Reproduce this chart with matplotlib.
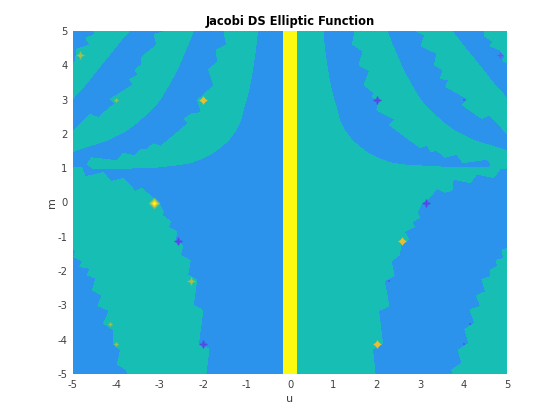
import matplotlib
matplotlib.use("Agg")
import matplotlib.pyplot as plt

plt.rcParams["axes.unicode_minus"] = False

# level regions, as (u, m) outlines
right_u = [0.00, 0.76, 0.79, 0.84, 0.92, 1.00, 1.08, 1.15, 1.27, 1.42, 1.61, 1.80, 2.04, 2.30, 2.65, 3.84, 4.57, 4.65, 4.53, 3.99, 3.84, 3.57, 3.38, 3.26, 3.15, 3.00, 2.30, 2.42, 2.00, 2.07, 1.90, 1.94, 1.71, 1.84, 1.59, 1.69, 1.44, 1.50, 2.24, 2.34, 2.46, 2.57, 2.69, 2.84, 3.00, 3.19, 3.38, 3.57, 3.76, 3.99, 4.22, 4.45, 4.69, 5.00, 5.00, 4.84, 4.69, 4.30, 4.15, 3.76, 3.73, 3.57, 3.39, 3.15, 3.03, 2.93, 2.98, 2.80, 2.86, 2.63, 2.73, 2.55, 2.52, 2.33, 2.40, 2.17, 2.28, 2.04, 2.13, 1.90, 1.96, 0.00]
right_m = [5.00, 5.00, 4.54, 4.06, 3.47, 3.04, 2.70, 2.36, 2.07, 1.82, 1.61, 1.43, 1.28, 1.16, 1.09, 1.01, 1.01, 1.12, 1.26, 1.16, 1.41, 1.32, 1.53, 1.48, 1.68, 1.60, 2.26, 2.42, 2.70, 2.99, 3.07, 3.20, 3.43, 3.84, 4.01, 4.40, 4.62, 5.00, 5.00, 4.64, 4.30, 3.96, 3.67, 3.33, 2.99, 2.72, 2.50, 2.29, 2.11, 1.95, 1.82, 1.72, 1.63, 1.51, 1.00, 0.98, 0.73, 0.83, 0.58, 0.68, 0.36, 0.30, 0.41, 0.07, -0.02, -0.30, -0.43, -0.58, -0.70, -0.85, -1.07, -1.24, -1.53, -1.71, -2.14, -2.28, -3.02, -3.15, -4.11, -4.28, -5.00, -5.00]

stripe_b_u = [2.92, 3.11, 3.02, 3.38, 3.33, 3.53, 3.46, 3.65, 3.59, 4.11, 3.98, 4.42, 4.59, 5.00, 5.00, 4.84, 4.69, 4.45, 4.26, 4.07, 3.89, 3.73]
stripe_b_m = [5.00, 4.88, 4.56, 4.35, 4.01, 3.86, 3.62, 3.57, 3.38, 3.01, 2.84, 2.45, 2.55, 2.02, 3.04, 3.26, 3.47, 3.86, 4.16, 4.45, 4.74, 5.00]

stripe_c_u = [4.49, 4.47, 4.69, 4.61, 4.84, 4.95, 4.90, 5.00, 5.00]
stripe_c_m = [5.00, 4.86, 4.69, 4.56, 4.45, 4.25, 4.14, 4.08, 5.00]

low_right_u = [5.00, 4.89, 4.92, 4.76, 4.78, 4.61, 4.62, 4.42, 4.51, 4.30, 4.39, 4.15, 4.26, 4.03, 4.12, 3.88, 3.96, 3.73, 3.76, 5.00]
low_right_m = [-1.34, -1.38, -1.63, -1.68, -1.87, -1.97, -2.16, -2.24, -2.60, -2.72, -3.02, -3.13, -3.52, -3.70, -4.11, -4.30, -4.69, -4.88, -5.00, -5.00]

left_u = [-0.75, -0.79, -0.84, -0.92, -1.00, -1.08, -1.15, -1.27, -1.42, -1.61, -1.80, -2.04, -2.30, -2.65, -3.15, -4.53, -4.67, -4.57, -3.99, -3.84, -3.57, -3.46, -3.29, -3.15, -2.98, -2.34, -2.44, -2.27, -2.04, -2.13, -2.00, -1.75, -1.87, -1.67, -1.70, -1.46, -1.52]
left_m = [5.00, 4.54, 4.06, 3.47, 3.04, 2.70, 2.36, 2.07, 1.82, 1.61, 1.43, 1.28, 1.16, 1.09, 1.02, 0.98, 1.12, 1.30, 1.22, 1.43, 1.36, 1.53, 1.55, 1.71, 1.63, 2.31, 2.43, 2.58, 2.62, 2.99, 3.13, 3.41, 3.86, 4.11, 4.45, 4.59, 5.00]

stripe_2_u = [-2.23, -2.34, -2.46, -2.57, -2.69, -2.84, -3.00, -3.19, -3.38, -3.57, -3.76, -3.99, -4.22, -4.45, -4.69, -5.00, -5.00, -4.61, -4.42, -4.03, -4.13, -3.61, -3.69, -3.49, -3.57, -3.42, -3.42, -3.07, -3.13, -2.84]
stripe_2_m = [5.00, 4.64, 4.30, 3.96, 3.67, 3.33, 2.99, 2.72, 2.50, 2.29, 2.11, 1.95, 1.82, 1.72, 1.63, 1.49, 2.07, 2.57, 2.47, 2.89, 3.02, 3.43, 3.59, 3.72, 3.86, 4.01, 4.23, 4.59, 4.90, 5.00]

stripe_3_u = [-4.53, -4.49, -4.70, -4.62, -4.92, -4.94, -5.00, -5.00, -4.84, -4.69, -4.45, -4.26, -4.07, -3.89, -3.71]
stripe_3_m = [5.00, 4.91, 4.79, 4.59, 4.47, 4.11, 4.08, 3.04, 3.26, 3.47, 3.86, 4.16, 4.45, 4.74, 5.00]

low_left_u = [-5.00, -4.80, -4.72, -4.30, -4.13, -3.84, -3.73, -3.57, -3.42, -3.15, -3.03, -2.92, -2.96, -2.76, -2.80, -2.61, -2.65, -2.47, -2.53, -2.30, -2.36, -2.15, -2.23, -2.01, -2.11, -1.87, -1.94, -3.75, -3.76, -3.98, -3.90, -4.07, -4.06, -4.29, -4.16, -4.42, -4.33, -4.55, -4.47, -4.67, -4.59, -4.84, -4.78, -4.98, -4.93, -5.00]
low_left_m = [1.02, 1.02, 0.75, 0.87, 0.61, 0.70, 0.56, 0.32, 0.41, 0.12, 0.00, -0.27, -0.36, -0.56, -0.72, -0.85, -1.09, -1.27, -1.53, -1.70, -2.11, -2.26, -2.99, -3.15, -4.13, -4.28, -5.00, -5.00, -4.88, -4.71, -4.30, -4.13, -3.72, -3.52, -3.15, -3.01, -2.71, -2.55, -2.21, -2.11, -1.92, -1.87, -1.70, -1.58, -1.41, -1.36]

band_u = [-0.16, 0.16, 0.16, -0.16]
band_m = [-5, -5, 5, 5]

# spikes at the poles: u, m, how strong, and which way
spike_u = [-3.14, -2.57, -2.29, -4.15, -4.00, -2.00, -2.00, -4.00, -4.85, 2.00, 4.00, 4.84, 3.14, 2.57, 2.29, 4.15, 4.00, 2.00]
spike_m = [0.00, -1.12, -2.28, -3.55, -4.13, -4.13, 3.00, 3.00, 4.29, 3.00, 3.00, 4.29, 0.00, -1.12, -2.28, -3.55, -4.13, -4.13]
spike_kind = ["hot_big", "cold", "olive", "dot_o", "dot_o", "cold", "hot", "dot_o", "olive", "cold", "dot_b", "cold_small", "cold", "hot", "dot_b", "dot_b", "dot_b", "hot"]

BLUE = "#2b93ec"
TEAL = "#17beb4"
YELLOW = "#fbfa10"

# layers for each kind of spike, outer to inner: marker, size, colour
layers = {
    "hot_big": [("D", 36, "#6ec27a"), ("D", 18, "#d8c23a"), ("D", 6, "#fbf50f")],
    "hot": [("+", 40, "#a8c24c"), ("D", 14, "#e3c03a")],
    "olive": [("+", 30, "#7fc166"), ("D", 8, "#a3bf4f")],
    "cold": [("D", 14, "#3c6fe8"), ("+", 40, "#5a45e0")],
    "cold_small": [("+", 22, "#5a60e6")],
    "dot_o": [("+", 8, "#9cc050")],
    "dot_b": [("s", 1.2, "#4464e8")],
}

fig = plt.figure(figsize=(5.6, 4.2), dpi=100)
ax = fig.add_axes([73 / 560, 46 / 420, 434 / 560, 343 / 420])
ax.set_facecolor(BLUE)

regions = [
    (right_u, right_m),
    (stripe_b_u, stripe_b_m),
    (stripe_c_u, stripe_c_m),
    (low_right_u, low_right_m),
    (left_u, left_m),
    (stripe_2_u, stripe_2_m),
    (stripe_3_u, stripe_3_m),
    (low_left_u, low_left_m),
]
for us, ms in regions:
    ax.fill(us, ms, color=TEAL, lw=0, antialiased=False)
ax.fill(band_u, band_m, color=YELLOW, lw=0, antialiased=False)

for u, m, kind in zip(spike_u, spike_m, spike_kind):
    for marker, size, colour in layers[kind]:
        width = 1.0 if marker == "+" else 0
        ax.scatter(u, m, s=size, marker=marker, c=colour, linewidths=width, zorder=3)

ax.set_xlim(-5, 5)
ax.set_ylim(-5, 5)
ax.set_xticks(range(-5, 6))
ax.set_yticks(range(-5, 6))
ax.tick_params(length=0, labelsize=7.2, labelcolor="#404040", pad=4)
for spine in ax.spines.values():
    spine.set_visible(False)

ax.set_xlabel("u", fontsize=8, color="#404040", labelpad=3.5)
ax.set_ylabel("m", fontsize=8, color="#404040", labelpad=0)
ax.set_title("Jacobi DS Elliptic Function", fontsize=8.3, fontweight="bold", color="black", pad=4)

fig.savefig("out.png", dpi=100)
